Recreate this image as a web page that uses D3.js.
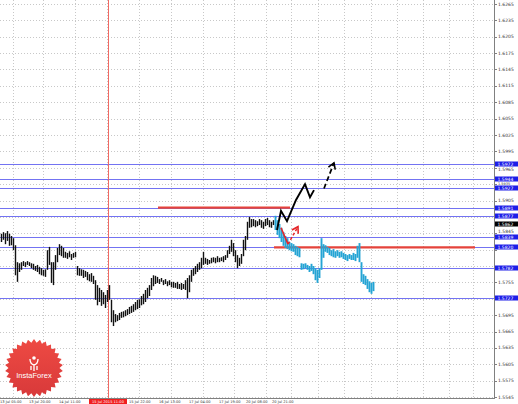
<!DOCTYPE html>
<html lang="en">
<head>
<meta charset="UTF-8">
<title>GBPUSD H1 - InstaForex</title>
<script src="https://d3js.org/d3.v7.min.js"></script>
<style>
    body { margin: 0; background: #fff; }
    svg { display: block; font-family: "DejaVu Sans", sans-serif; }
</style>
</head>
<body>
<svg id="chart" width="518" height="404"></svg>
<script>
// history bars (black), one per hour
const histHigh = [
    1.5844,1.5847,1.5845,1.5849,1.5844,1.5840,1.5836,1.5823,1.5792,1.5790,
    1.5792,1.5794,1.5792,1.5794,1.5792,1.5790,1.5789,1.5785,1.5787,1.5783,
    1.5781,1.5778,1.5779,1.5814,1.5820,1.5792,1.5792,1.5805,1.5818,1.5825,
    1.5822,1.5818,1.5811,1.5809,1.5812,1.5807,1.5809,1.5811,1.5785,1.5781,
    1.5779,1.5778,1.5776,1.5774,1.5770,1.5772,1.5767,1.5759,1.5750,1.5745,
    1.5741,1.5737,1.5732,1.5741,1.5750,1.5723,1.5704,1.5697,1.5695,1.5699,
    1.5701,1.5702,1.5704,1.5706,1.5710,1.5712,1.5715,1.5719,1.5723,1.5724,
    1.5730,1.5734,1.5741,1.5745,1.5750,1.5763,1.5768,1.5767,1.5765,1.5761,
    1.5763,1.5759,1.5761,1.5757,1.5759,1.5756,1.5756,1.5754,1.5756,1.5752,
    1.5754,1.5752,1.5759,1.5763,1.5768,1.5778,1.5781,1.5785,1.5789,1.5792,
    1.5800,1.5811,1.5800,1.5798,1.5796,1.5800,1.5801,1.5800,1.5803,1.5800,
    1.5801,1.5803,1.5805,1.5814,1.5822,1.5833,1.5827,1.5814,1.5805,1.5800,
    1.5807,1.5833,1.5840,1.5866,1.5875,1.5871,1.5871,1.5869,1.5867,1.5871,
    1.5869,1.5866,1.5871,1.5873,1.5869,1.5866,1.5869
];
const histLow = [
    1.5829,1.5833,1.5825,1.5831,1.5822,1.5823,1.5814,1.5768,1.5756,1.5774,
    1.5778,1.5785,1.5783,1.5787,1.5785,1.5781,1.5778,1.5776,1.5774,1.5770,
    1.5768,1.5767,1.5765,1.5778,1.5787,1.5754,1.5750,1.5778,1.5792,1.5805,
    1.5803,1.5800,1.5800,1.5798,1.5801,1.5796,1.5800,1.5801,1.5768,1.5767,
    1.5767,1.5763,1.5765,1.5759,1.5757,1.5756,1.5752,1.5723,1.5713,1.5719,
    1.5712,1.5715,1.5708,1.5719,1.5723,1.5682,1.5675,1.5682,1.5684,1.5686,
    1.5690,1.5691,1.5693,1.5695,1.5697,1.5699,1.5701,1.5704,1.5706,1.5708,
    1.5713,1.5715,1.5719,1.5726,1.5730,1.5741,1.5748,1.5752,1.5754,1.5752,
    1.5756,1.5750,1.5752,1.5748,1.5750,1.5746,1.5745,1.5745,1.5743,1.5743,
    1.5741,1.5743,1.5741,1.5726,1.5737,1.5756,1.5767,1.5770,1.5774,1.5778,
    1.5781,1.5787,1.5789,1.5787,1.5789,1.5790,1.5792,1.5790,1.5792,1.5792,
    1.5794,1.5792,1.5796,1.5800,1.5807,1.5811,1.5803,1.5792,1.5781,1.5785,
    1.5789,1.5803,1.5814,1.5833,1.5855,1.5856,1.5858,1.5856,1.5858,1.5860,
    1.5855,1.5853,1.5858,1.5860,1.5856,1.5855,1.5860
];
// forecast bars (cyan)
const fcHigh = [
    1.5877,1.5869,1.5862,1.5855,1.5847,1.5840,1.5836,1.5829,1.5827,1.5825,
    1.5822,1.5820,1.5818,1.5790,1.5789,1.5790,1.5787,1.5785,1.5789,1.5785,
    1.5781,1.5778,1.5781,1.5836,1.5825,1.5823,1.5820,1.5818,1.5814,1.5816,
    1.5812,1.5814,1.5811,1.5812,1.5809,1.5807,1.5805,1.5807,1.5805,1.5809,
    1.5807,1.5822,1.5827,1.5792,1.5770,1.5767,1.5761,1.5757,1.5754,1.5756
];
const fcLow = [
    1.5851,1.5842,1.5836,1.5829,1.5822,1.5818,1.5816,1.5814,1.5812,1.5811,
    1.5805,1.5803,1.5801,1.5778,1.5779,1.5781,1.5778,1.5774,1.5776,1.5770,
    1.5759,1.5754,1.5763,1.5778,1.5800,1.5811,1.5809,1.5805,1.5803,1.5801,
    1.5800,1.5803,1.5800,1.5801,1.5798,1.5796,1.5794,1.5798,1.5796,1.5796,
    1.5794,1.5800,1.5792,1.5756,1.5752,1.5750,1.5743,1.5737,1.5734,1.5739
];

const levelPrices = [1.5972, 1.5944, 1.5927, 1.5891, 1.5877, 1.5839, 1.5820, 1.5782, 1.5727];
const lastPrice = 1.5862;
// red horizontal levels: price, first bar, last bar
const redPrices = [1.5892, 1.5819];
const redFrom = [78.5, 136.5];
const redTo = [144.5, 237];
const markerBar = 53.5;
const markerLabel = "15 Jul 2015 11:00";

// scenario arrows: [bar, price]
const upSolid = [[138,1.5851],[140,1.5886],[143,1.5867],[147.5,1.5906],[152,1.5935],[154.5,1.5911],[156.5,1.5924]];
const upDashed = [[161.5,1.5927],[166.5,1.5974]];
const downSolid = [[140,1.5855],[143.5,1.5825]];
const downDashed = [[143.5,1.5825],[148.5,1.5857]];

const priceTicks = [1.6265,1.6235,1.6205,1.6175,1.6145,1.6115,1.6085,1.6055,1.6025,1.5995,
    1.5965,1.5935,1.5905,1.5875,1.5845,1.5815,1.5785,1.5755,1.5725,1.5695,1.5665,1.5635,
    1.5605,1.5575,1.5545];
const timeBars = [-0.5, 14, 29, 64, 79, 94, 109, 122.5, 135.5];
const timeLabels = ["13 Jul 05:00", "13 Jul 20:00", "14 Jul 11:00", "15 Jul 22:00", "16 Jul 13:00",
    "17 Jul 04:00", "17 Jul 19:00", "20 Jul 08:00", "20 Jul 21:00"];
const gridBars = [6, 21, 37, 53, 69, 85, 101, 116.5, 132.5, 145, 158.5, 171.5, 185, 198, 211, 224, 236];

const svg = d3.select("#chart");
const plotRight = 494, plotBottom = 398;
const x = d3.scaleLinear().domain([0, 247]).range([1, 495]);
const y = d3.scaleLinear().domain([1.5545, 1.6265]).range([397, 4]);
const py = p => Math.round(y(p)) + 0.5;
const fmt = d3.format(".4f");
const boxPrices = levelPrices.concat([lastPrice]);

// dotted grid
svg.append("g").selectAll("line").data(priceTicks).join("line")
    .attr("x1", 0).attr("x2", plotRight)
    .attr("y1", py).attr("y2", py)
    .attr("stroke", "#c8c8c8").attr("stroke-dasharray", "1,2");
svg.append("g").selectAll("line").data(gridBars).join("line")
    .attr("x1", d => Math.round(x(d)) + 0.5).attr("x2", d => Math.round(x(d)) + 0.5)
    .attr("y1", 0).attr("y2", plotBottom)
    .attr("stroke", "#c8c8c8").attr("stroke-dasharray", "1,2");

// support / resistance levels
svg.append("g").selectAll("line").data(levelPrices).join("line")
    .attr("x1", 0).attr("x2", plotRight)
    .attr("y1", py).attr("y2", py)
    .attr("stroke", "#7373f2").attr("stroke-width", 1);

// red marker line
svg.append("line")
    .attr("x1", Math.round(x(markerBar)) + 0.5).attr("x2", Math.round(x(markerBar)) + 0.5)
    .attr("y1", 0).attr("y2", plotBottom)
    .attr("stroke", "#f06a63").attr("stroke-width", 1);

redPrices.forEach((p, i) => {
    svg.append("line")
        .attr("x1", x(redFrom[i])).attr("x2", x(redTo[i]))
        .attr("y1", y(p)).attr("y2", y(p))
        .attr("stroke", "#e5433b").attr("stroke-width", 2.2);
});

// bars
function drawBars(highs, lows, start, color, w) {
    svg.append("g").selectAll("line").data(highs).join("line")
        .attr("x1", (d, i) => Math.round(x(start + i)) + 0.5)
        .attr("x2", (d, i) => Math.round(x(start + i)) + 0.5)
        .attr("y1", d => y(d))
        .attr("y2", (d, i) => y(lows[i]))
        .attr("stroke", color).attr("stroke-width", w);
}
drawBars(histHigh, histLow, 0, "#111", 1.4);
drawBars(fcHigh, fcLow, histHigh.length, "#24a4d4", 1.9);

// arrows
const line = d3.line().x(d => x(d[0])).y(d => y(d[1]));
function arrowHead(pts, color) {
    const a = pts[pts.length - 2], b = pts[pts.length - 1];
    const bx = x(b[0]), by = y(b[1]);
    const ang = Math.atan2(y(a[1]) - by, x(a[0]) - bx);
    const len = 7, spread = 0.55;
    const p1 = [bx + len * Math.cos(ang - spread), by + len * Math.sin(ang - spread)];
    const p2 = [bx + len * Math.cos(ang + spread), by + len * Math.sin(ang + spread)];
    svg.append("path")
        .attr("d", `M${p1[0]},${p1[1]}L${bx},${by}L${p2[0]},${p2[1]}`)
        .attr("fill", "none").attr("stroke", color).attr("stroke-width", 1.6);
}
svg.append("path").datum(upSolid).attr("d", line)
    .attr("fill", "none").attr("stroke", "#000").attr("stroke-width", 1.9);
svg.append("path").datum(upDashed).attr("d", line)
    .attr("fill", "none").attr("stroke", "#000").attr("stroke-width", 1.7)
    .attr("stroke-dasharray", "5,3");
arrowHead(upDashed, "#000");
svg.append("path").datum(downSolid).attr("d", line)
    .attr("fill", "none").attr("stroke", "#e5262a").attr("stroke-width", 1.6);
svg.append("path").datum(downDashed).attr("d", line)
    .attr("fill", "none").attr("stroke", "#e5262a").attr("stroke-width", 1.5)
    .attr("stroke-dasharray", "3,2");
arrowHead(downDashed, "#e5262a");

// axes frame
svg.append("line").attr("x1", plotRight + 0.5).attr("x2", plotRight + 0.5)
    .attr("y1", 0).attr("y2", plotBottom).attr("stroke", "#808080");
svg.append("line").attr("x1", 0).attr("x2", plotRight + 1)
    .attr("y1", plotBottom + 0.5).attr("y2", plotBottom + 0.5).attr("stroke", "#808080");

// price scale: ticks under a level box are dropped, close ones pushed or squeezed
const boxHalf = 2.5, need = 5.2;
const boxYs = boxPrices.map(b => Math.round(y(b)));
const tickPos = priceTicks.map(d => {
    const ty0 = y(d);
    if (boxYs.some(b => Math.abs(ty0 - b) < 3.4)) return null;
    const above = boxYs.filter(b => b < ty0).sort((a, b) => b - a)[0];
    const below = boxYs.filter(b => b > ty0).sort((a, b) => a - b)[0];
    let ty = ty0, size = 4.5;
    if (above !== undefined && below !== undefined && below - above < 2 * need + 0.5) {
        ty = (above + below) / 2;
        size = 3.5;
    } else if (above !== undefined && ty0 - above < need) {
        ty = above + need;
    } else if (below !== undefined && below - ty0 < need) {
        ty = below - need;
    }
    return { p: d, ty: ty, size: size };
}).filter(t => t);

const pAxis = svg.append("g");
pAxis.selectAll("line").data(priceTicks).join("line")
    .attr("x1", plotRight).attr("x2", plotRight + 3)
    .attr("y1", py).attr("y2", py).attr("stroke", "#808080");
pAxis.selectAll("text").data(tickPos).join("text")
    .attr("x", plotRight + 4).attr("y", d => d.ty + d.size * 0.36)
    .attr("font-size", d => d.size).attr("fill", "#333")
    .text(d => fmt(d.p));

const boxes = svg.append("g");
boxPrices.forEach((p, i) => {
    const last = i === boxPrices.length - 1;
    const by = Math.round(y(p));
    boxes.append("rect").attr("x", plotRight + 1).attr("y", by - boxHalf)
        .attr("width", 23).attr("height", boxHalf * 2).attr("fill", last ? "#000" : "#1e1ee8");
    boxes.append("text").attr("x", plotRight + 3.5).attr("y", by + 1.6)
        .attr("font-size", 4.5).attr("fill", "#fff").text(fmt(p));
});

// time scale
svg.append("g").selectAll("text").data(timeLabels).join("text")
    .attr("x", (d, i) => x(timeBars[i])).attr("y", 403)
    .attr("font-size", 3.6).attr("fill", "#333").text(d => d);
const mx = x(markerBar);
svg.append("rect").attr("x", mx - 19).attr("y", 399).attr("width", 38).attr("height", 5)
    .attr("fill", "#f01f1f");
svg.append("text").attr("x", mx).attr("y", 403).attr("text-anchor", "middle")
    .attr("font-size", 3.6).attr("fill", "#fff").text(markerLabel);

// InstaForex badge
const logo = svg.append("g").attr("transform", "translate(34,368)");
const grad = svg.append("defs").append("linearGradient").attr("id", "badge")
    .attr("x1", 0).attr("y1", 0).attr("x2", 0).attr("y2", 1);
grad.append("stop").attr("offset", "0%").attr("stop-color", "#ee4a43");
grad.append("stop").attr("offset", "100%").attr("stop-color", "#d8393a");
const spikes = 30;
const star = d3.range(spikes * 2).map(k => {
    const r = k % 2 === 0 ? 29 : 25.5;
    const a = k * Math.PI / spikes;
    return [r * Math.sin(a), -r * Math.cos(a)];
});
logo.append("path").attr("d", d3.line()(star) + "Z").attr("fill", "url(#badge)");
logo.append("circle").attr("cy", -10).attr("r", 1.8).attr("fill", "#fff");
logo.append("path").attr("d", "M-4,-9 Q-4,-4 0,-3 Q4,-4 4,-9 M0,-3 L0,3 M-3,-2 L-3,2 M3,-2 L3,2")
    .attr("fill", "none").attr("stroke", "#fff").attr("stroke-width", 1.3);
logo.append("text").attr("y", 10).attr("text-anchor", "middle")
    .attr("font-size", 7.5).attr("fill", "#fff").attr("font-family", "Arial, Liberation Sans, sans-serif")
    .text("InstaForex");
</script>
</body>
</html>
